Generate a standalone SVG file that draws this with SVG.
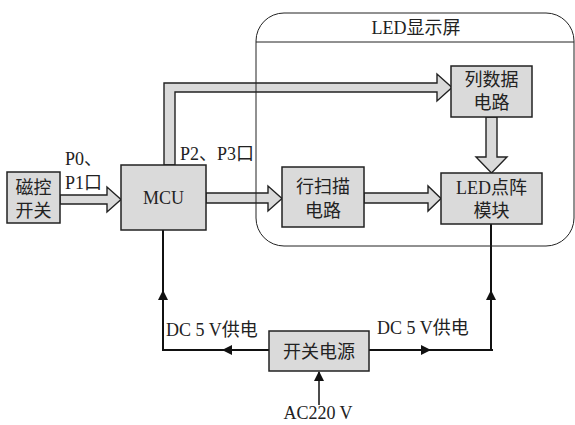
<svg xmlns="http://www.w3.org/2000/svg" width="575" height="425" viewBox="0 0 575 425">
<style>
.box{fill:#dadada;stroke:#222;stroke-width:1.5}
.pipe{fill:#dadada;stroke:#222;stroke-width:1.4;stroke-linejoin:miter}
.ln{fill:none;stroke:#111;stroke-width:2}
.t{font-family:"Liberation Serif","Noto Sans CJK SC",serif;font-size:18px;fill:#222}
.m{text-anchor:middle}
.hd{fill:#111}
</style>
<rect width="575" height="425" fill="#fff"/>
<g id="connectors">
<polygon class="pipe" points="164,165 164,83 437,83 437,74 452,87.5 437,101 437,92 175,92 175,165"/>
<polygon class="pipe" points="486,117 497,117 497,157 507,157 491.5,173 476,157 486,157"/>
<polygon class="pipe" points="60,195 107,195 107,187 121,199.5 107,212 107,204 60,204"/>
<polygon class="pipe" points="206,193 268,193 268,186 282,198.5 268,211 268,203 206,203"/>
<polygon class="pipe" points="364,193 428,193 428,186 441,198.5 428,211 428,203 364,203"/>
<path class="ln" d="M269,350 H163 V230"/>
<path class="ln" d="M369,350 H493 M491,350 V224"/>
<path class="ln" d="M319,405 V372" style="stroke-width:1.5"/>
<polygon class="hd" points="222,350 232,345 232,355"/>
<polygon class="hd" points="163,290 158,300 168,300"/>
<polygon class="hd" points="431,350 421,345 421,355"/>
<polygon class="hd" points="491,290 486,300 496,300"/>
<polygon class="hd" points="319,371 314,381 324,381"/>
</g>
<g id="led-screen">
<rect x="256" y="13" width="318" height="233" rx="28" ry="28" fill="none" stroke="#222" stroke-width="1"/>
<line x1="256" y1="42" x2="574" y2="42" stroke="#222" stroke-width="1"/>
<text class="t m" x="416" y="34">LED显示屏</text>
</g>
<g id="cigan">
<rect class="box" x="7" y="172" width="53" height="51"/>
<text class="t m" x="33.5" y="194">磁控</text>
<text class="t m" x="33.5" y="217">开关</text>
</g>
<g id="mcu">
<rect class="box" x="121" y="165" width="85" height="65"/>
<text class="t m" x="163.5" y="204">MCU</text>
</g>
<g id="liesj">
<rect class="box" x="451" y="66" width="81" height="51"/>
<text class="t m" x="491.5" y="86">列数据</text>
<text class="t m" x="491.5" y="109">电路</text>
</g>
<g id="hangsm">
<rect class="box" x="282" y="167" width="82" height="60"/>
<text class="t m" x="323" y="193">行扫描</text>
<text class="t m" x="323" y="217">电路</text>
</g>
<g id="ledmat">
<rect class="box" x="441" y="173" width="101" height="51"/>
<text class="t m" x="491.5" y="194">LED点阵</text>
<text class="t m" x="491.5" y="217">模块</text>
</g>
<g id="power">
<rect class="box" x="269" y="331" width="100" height="40"/>
<text class="t m" x="319" y="358">开关电源</text>
</g>
<g id="labels">
<text class="t" x="65" y="165">P0、</text>
<text class="t" x="65" y="189">P1口</text>
<text class="t" x="180" y="160">P2、P3口</text>
<text class="t" x="166" y="336">DC 5 V供电</text>
<text class="t" x="377" y="334">DC 5 V供电</text>
<text class="t m" x="318" y="419">AC220 V</text>
</g>
</svg>
